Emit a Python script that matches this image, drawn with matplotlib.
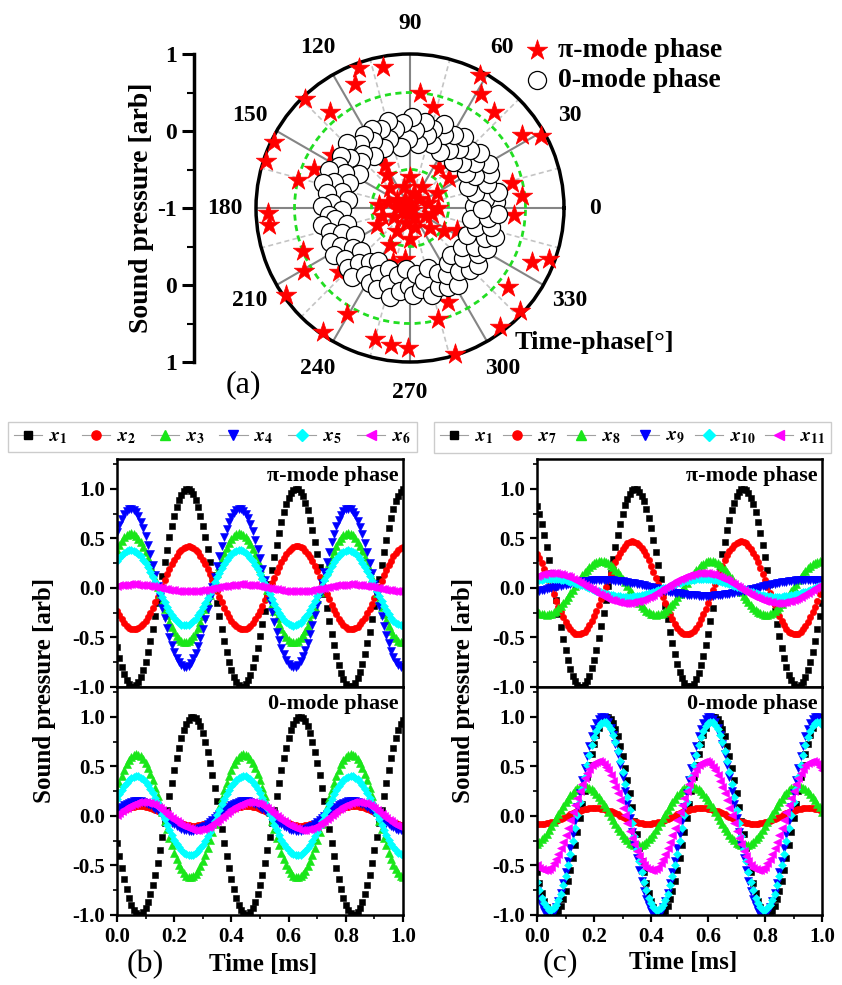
import numpy as np
import matplotlib.pyplot as plt
from matplotlib.lines import Line2D
from matplotlib.ticker import MultipleLocator, FormatStrFormatter

plt.rcParams['font.family'] = ['Liberation Serif', 'DejaVu Serif']
plt.rcParams['font.weight'] = 'bold'
plt.rcParams['mathtext.fontset'] = 'stix'
plt.rcParams['axes.unicode_minus'] = False

# ---------------- (a) time-phase polar plot ----------------
# angle [deg], sound pressure (-1 at the centre, 1 on the rim)
pi_theta = [101, 110, 114, 134, 130, 154, 162, 166, 158, 146,
            182, 187, 202, 211, 215, 239, 235, 255, 262, 269,
            222, 62, 58, 49, 33, 29, 85, 77, 14, 6,
            356, 336, 340, 321, 317, 307, 292, 284, 287,
            120, 125, 174, 207, 242, 253, 54, 37, 326, 335, 264,
            0, 15, 30, 45, 60, 75, 90, 105, 120, 135, 150, 165,
            180, 195, 210, 225, 240, 255, 270, 285, 300, 315, 330, 345,
            0, 100, 200, 320]
pi_r = [0.87, 0.93, 0.76, 0.97, 0.62, 0.97, 0.97, 0.50, 0.34, 0.22,
        0.84, 0.84, 0.50, 0.60, 0.97, 0.60, 0.97, 0.76, 0.80, 0.82,
        0.24, 0.95, 0.74, 0.66, 0.74, 0.94, 0.50, 0.35, 0.36, 0.46,
        0.36, 0.74, 0.92, 0.64, 0.96, 0.94, 0.32, 0.48, 0.98,
        -0.36, -0.48, -0.60, -0.52, -0.46, -0.26, -0.36, -0.36, -0.46, -0.33, -0.34,
        -0.64, -0.76, -0.60, -0.84, -0.68, -0.80, -0.60, -0.72, -0.88, -0.64, -0.80, -0.70,
        -0.84, -0.62, -0.76, -0.92, -0.66, -0.80, -0.60, -0.74, -0.86, -0.64, -0.78, -0.70,
        -1.00, -0.94, -0.90, -0.96]

zero_theta = [2, 4, 7, 10, 13, 17, 20, 23, 26, 29,
              32, 35, 38, 41, 44, 47, 50, 53, 56, 59,
              62, 65, 68, 71, 74, 77, 80, 83, 86, 89,
              92, 95, 98, 101, 104, 107, 110, 113, 116, 119,
              122, 125, 128, 131, 134, 137, 140, 143, 146, 149,
              152, 155, 158, 161, 164, 167, 170, 173, 176, 179,
              182, 185, 188, 191, 194, 197, 200, 203, 206, 209,
              212, 215, 218, 221, 224, 227, 230, 233, 236, 239,
              242, 245, 248, 251, 254, 257, 260, 263, 266, 269,
              272, 275, 278, 281, 284, 287, 290, 293, 296, 299,
              302, 305, 308, 311, 314, 317, 320, 323, 326, 329,
              332, 335, 338, 341, 344, 347, 350, 353, 356, 359]
zero_r = [-0.17, 0.12, -0.02, 0.16, -0.13, 0.05, -0.20, 0.13, -0.06, 0.17,
          -0.15, 0.03, 0.15, -0.11, 0.08, -0.19, 0.00, 0.16, -0.09, 0.11,
          -0.18, 0.04, 0.17, -0.12, 0.07, -0.03, 0.13, -0.16, 0.02, 0.18,
          -0.10, 0.11, -0.20, 0.05, 0.16, -0.06, 0.09, -0.15, 0.14, -0.01,
          0.12, -0.18, 0.06, -0.07, 0.17, -0.13, 0.02, 0.13, -0.20, 0.07,
          -0.04, 0.16, -0.14, 0.04, 0.18, -0.10, 0.09, -0.19, 0.01, 0.14,
          -0.12, 0.06, -0.02, 0.17, -0.16, 0.08, -0.06, 0.13, -0.20, 0.03,
          0.16, -0.10, 0.07, -0.15, 0.12, -0.03, 0.17, -0.13, 0.05, -0.19,
          0.11, -0.05, 0.14, -0.16, 0.03, 0.18, -0.11, 0.08, -0.20, 0.01,
          0.13, -0.14, 0.06, -0.04, 0.17, -0.18, 0.09, -0.08, 0.14, -0.01,
          0.18, -0.13, 0.04, -0.19, 0.12, -0.05, 0.16, -0.15, 0.07, -0.02,
          0.13, -0.18, 0.05, 0.17, -0.11, 0.08, -0.20, 0.02, 0.14, -0.07]

angle_ticks = [0, 30, 60, 90, 120, 150, 180, 210, 240, 270, 300, 330]
angle_labels = ['0', '30', '60', '90', '120', '150', '180', '210', '240', '270', '300', '330']
left_ticks = [2, 1, 0, -1, -2]
left_labels = ['1', '0', '-1', '0', '1']

# ---------------- (b), (c) waveforms ----------------
time_ms = np.linspace(0.0, 1.0, 121)
b_labels = [r'$x_{1}$', r'$x_{2}$', r'$x_{3}$', r'$x_{4}$', r'$x_{5}$', r'$x_{6}$']
c_labels = [r'$x_{1}$', r'$x_{7}$', r'$x_{8}$', r'$x_{9}$', r'$x_{10}$', r'$x_{11}$']

# amplitude, time of first crest [ms], period [ms]
b_pi_amp = [1.00, 0.42, 0.55, 0.80, 0.38, 0.035]
b_pi_crest = [0.246, 0.250, 0.048, 0.048, 0.048, 0.055]
b_pi_period = [0.38, 0.38, 0.38, 0.38, 0.38, 0.38]
b_zero_amp = [1.00, 0.10, 0.62, 0.15, 0.40, 0.14]
b_zero_crest = [0.265, 0.080, 0.068, 0.070, 0.068, 0.090]
b_zero_period = [0.375, 0.375, 0.375, 0.375, 0.375, 0.375]
c_pi_amp = [1.00, 0.47, 0.27, 0.08, 0.09, 0.15]
c_pi_crest = [0.344, 0.335, 0.225, 0.23, 0.05, 0.05]
c_pi_period = [0.38, 0.38, 0.385, 0.72, 0.53, 0.53]
c_zero_amp = [1.00, 0.08, 0.30, 1.00, 0.95, 0.55]
c_zero_crest = [0.245, 0.200, 0.165, 0.230, 0.235, 0.215]
c_zero_period = [0.375, 0.375, 0.375, 0.375, 0.375, 0.375]

markers = ['s', 'o', '^', 'v', 'D', '<']
colors = ['black', 'red', '#19e619', 'blue', 'cyan', 'magenta']
msizes = [4.2, 4.6, 5.2, 5.2, 4.2, 5.2]

W, H = 842, 985
fig = plt.figure(figsize=(W / 100, H / 100), dpi=100)

# ---- polar panel ----
cx, cy, R = 410, 208, 154
axp = fig.add_axes([(cx - R) / W, 1 - (cy + R) / H, 2 * R / W, 2 * R / H], projection='polar')
axp.set_ylim(-1, 1)
axp.set_yticks([-0.5, 0.5])
axp.set_yticklabels([])
axp.tick_params(axis='y', length=0)
axp.yaxis.grid(True, color='#22dd22', lw=2.0, ls=(0, (2.2, 1.6)))
axp.set_xticks(np.deg2rad(angle_ticks))
axp.set_xticks(np.deg2rad(np.array(angle_ticks) + 15), minor=True)
axp.set_xticklabels([])
axp.xaxis.grid(True, which='major', color='#858585', lw=1.5)
axp.xaxis.grid(True, which='minor', color='#c4c4c4', lw=1.2, ls=(0, (3, 2)))
axp.tick_params(axis='x', which='major', direction='in', length=10, width=2)
axp.tick_params(axis='x', which='minor', direction='in', length=6, width=1.5)
axp.spines['polar'].set_linewidth(2.5)
axp.set_axisbelow(True)

sc_pi = axp.scatter(np.deg2rad(pi_theta), pi_r, marker='*', s=240, c='red',
                    edgecolors='red', linewidths=0.5, zorder=3, clip_on=False)
sc_zero = axp.scatter(np.deg2rad(zero_theta), zero_r, marker='o', s=170, c='white',
                      edgecolors='black', linewidths=0.9, zorder=4)

for ang, lab in zip(angle_ticks, angle_labels):
    axp.text(np.deg2rad(ang), 1.40, lab, ha='center', va='center', fontsize=17)

axp.legend([sc_pi, sc_zero], ['π-mode phase', '0-mode phase'], loc='upper left',
           bbox_to_anchor=(508 / W, 1 - 24 / H), bbox_transform=fig.transFigure,
           frameon=False, fontsize=20, handletextpad=0.2, labelspacing=0.15,
           borderpad=0, handlelength=1.1, scatterpoints=1)

fig.text(515 / W, 1 - 342 / H, 'Time-phase[°]', ha='left', va='center', fontsize=19)
fig.text(243 / W, 1 - 385 / H, '(a)', ha='center', va='center', fontsize=23, fontweight='normal')

# left linear axis of the polar plot
axl = fig.add_axes([194 / W, 1 - (cy + R) / H, 0.01, 2 * R / H])
axl.set_ylim(-2, 2)
axl.set_yticks(left_ticks)
axl.set_yticklabels(left_labels)
axl.yaxis.set_minor_locator(MultipleLocator(0.5))
axl.set_xticks([])
for s in ['top', 'right', 'bottom']:
    axl.spines[s].set_visible(False)
axl.spines['left'].set_linewidth(2.5)
axl.patch.set_visible(False)
axl.tick_params(axis='y', which='major', direction='out', length=9, width=2.2, labelsize=17)
axl.tick_params(axis='y', which='minor', direction='out', length=5, width=1.5)
fig.text(141 / W, 1 - cy / H, 'Sound pressure [arb]', rotation=90, ha='center', va='center', fontsize=20)


# ---- waveform panels ----
def draw_panel(rect, amps, crests, periods, note, bottom_labels):
    ax = fig.add_axes(rect)
    for a, c0, p, m, col, ms in zip(amps, crests, periods, markers, colors, msizes):
        ax.plot(time_ms, a * np.cos(2 * np.pi * (time_ms - c0) / p), ls='none',
                marker=m, ms=ms, mfc=col, mec=col, mew=0.4)
    ax.set_xlim(0, 1)
    ax.set_ylim(-1, 1.3)
    ax.xaxis.set_major_locator(MultipleLocator(0.2))
    ax.xaxis.set_minor_locator(MultipleLocator(0.1))
    ax.yaxis.set_major_locator(MultipleLocator(0.5))
    ax.yaxis.set_minor_locator(MultipleLocator(0.25))
    ax.yaxis.set_major_formatter(FormatStrFormatter('%.1f'))
    ax.xaxis.set_major_formatter(FormatStrFormatter('%.1f'))
    ax.tick_params(which='major', direction='out', length=5, width=1.6, labelsize=15)
    ax.tick_params(which='minor', direction='out', length=3, width=1.2)
    for s in ax.spines.values():
        s.set_linewidth(1.8)
    if not bottom_labels:
        ax.tick_params(axis='x', which='both', bottom=False, labelbottom=False)
    ax.text(0.983, 0.97, note, transform=ax.transAxes, ha='right', va='top', fontsize=16)
    return ax


ph = 228 / H
bx, cxl = 117 / W, 537 / W
pw_b, pw_c = 286 / W, 285 / W
draw_panel([bx, 1 - 687 / H, pw_b, ph], b_pi_amp, b_pi_crest, b_pi_period, 'π-mode phase', False)
draw_panel([bx, 1 - 915 / H, pw_b, ph], b_zero_amp, b_zero_crest, b_zero_period, '0-mode phase', True)
draw_panel([cxl, 1 - 687 / H, pw_c, ph], c_pi_amp, c_pi_crest, c_pi_period, 'π-mode phase', False)
draw_panel([cxl, 1 - 915 / H, pw_c, ph], c_zero_amp, c_zero_crest, c_zero_period, '0-mode phase', True)

handles = [Line2D([], [], color='#a0a0a0', lw=0.8, marker=m, ms=ms + 2, mfc=col, mec=col)
           for m, col, ms in zip(markers, colors, msizes)]
for labels, x0, colsp in [(b_labels, 8, 0.75), (c_labels, 434, 0.5)]:
    fig.legend(handles, labels, loc='upper left', bbox_to_anchor=(x0 / W, 1 - 422 / H),
               ncol=6, fontsize=14, frameon=True, fancybox=False, edgecolor='#c0c0c0',
               handlelength=1.45, handletextpad=0.35, columnspacing=colsp, borderpad=0.3,
               borderaxespad=0)

fig.text(45 / W, 1 - 690 / H, 'Sound pressure [arb]', rotation=90, ha='center', va='center', fontsize=18)
fig.text(463 / W, 1 - 690 / H, 'Sound pressure [arb]', rotation=90, ha='center', va='center', fontsize=18)
fig.text(263 / W, 1 - 965 / H, 'Time [ms]', ha='center', va='center', fontsize=18)
fig.text(683 / W, 1 - 963 / H, 'Time [ms]', ha='center', va='center', fontsize=18)
fig.text(145 / W, 1 - 965 / H, '(b)', ha='center', va='center', fontsize=23, fontweight='normal')
fig.text(560 / W, 1 - 963 / H, '(c)', ha='center', va='center', fontsize=23, fontweight='normal')

fig.savefig('out.png', dpi=100)
